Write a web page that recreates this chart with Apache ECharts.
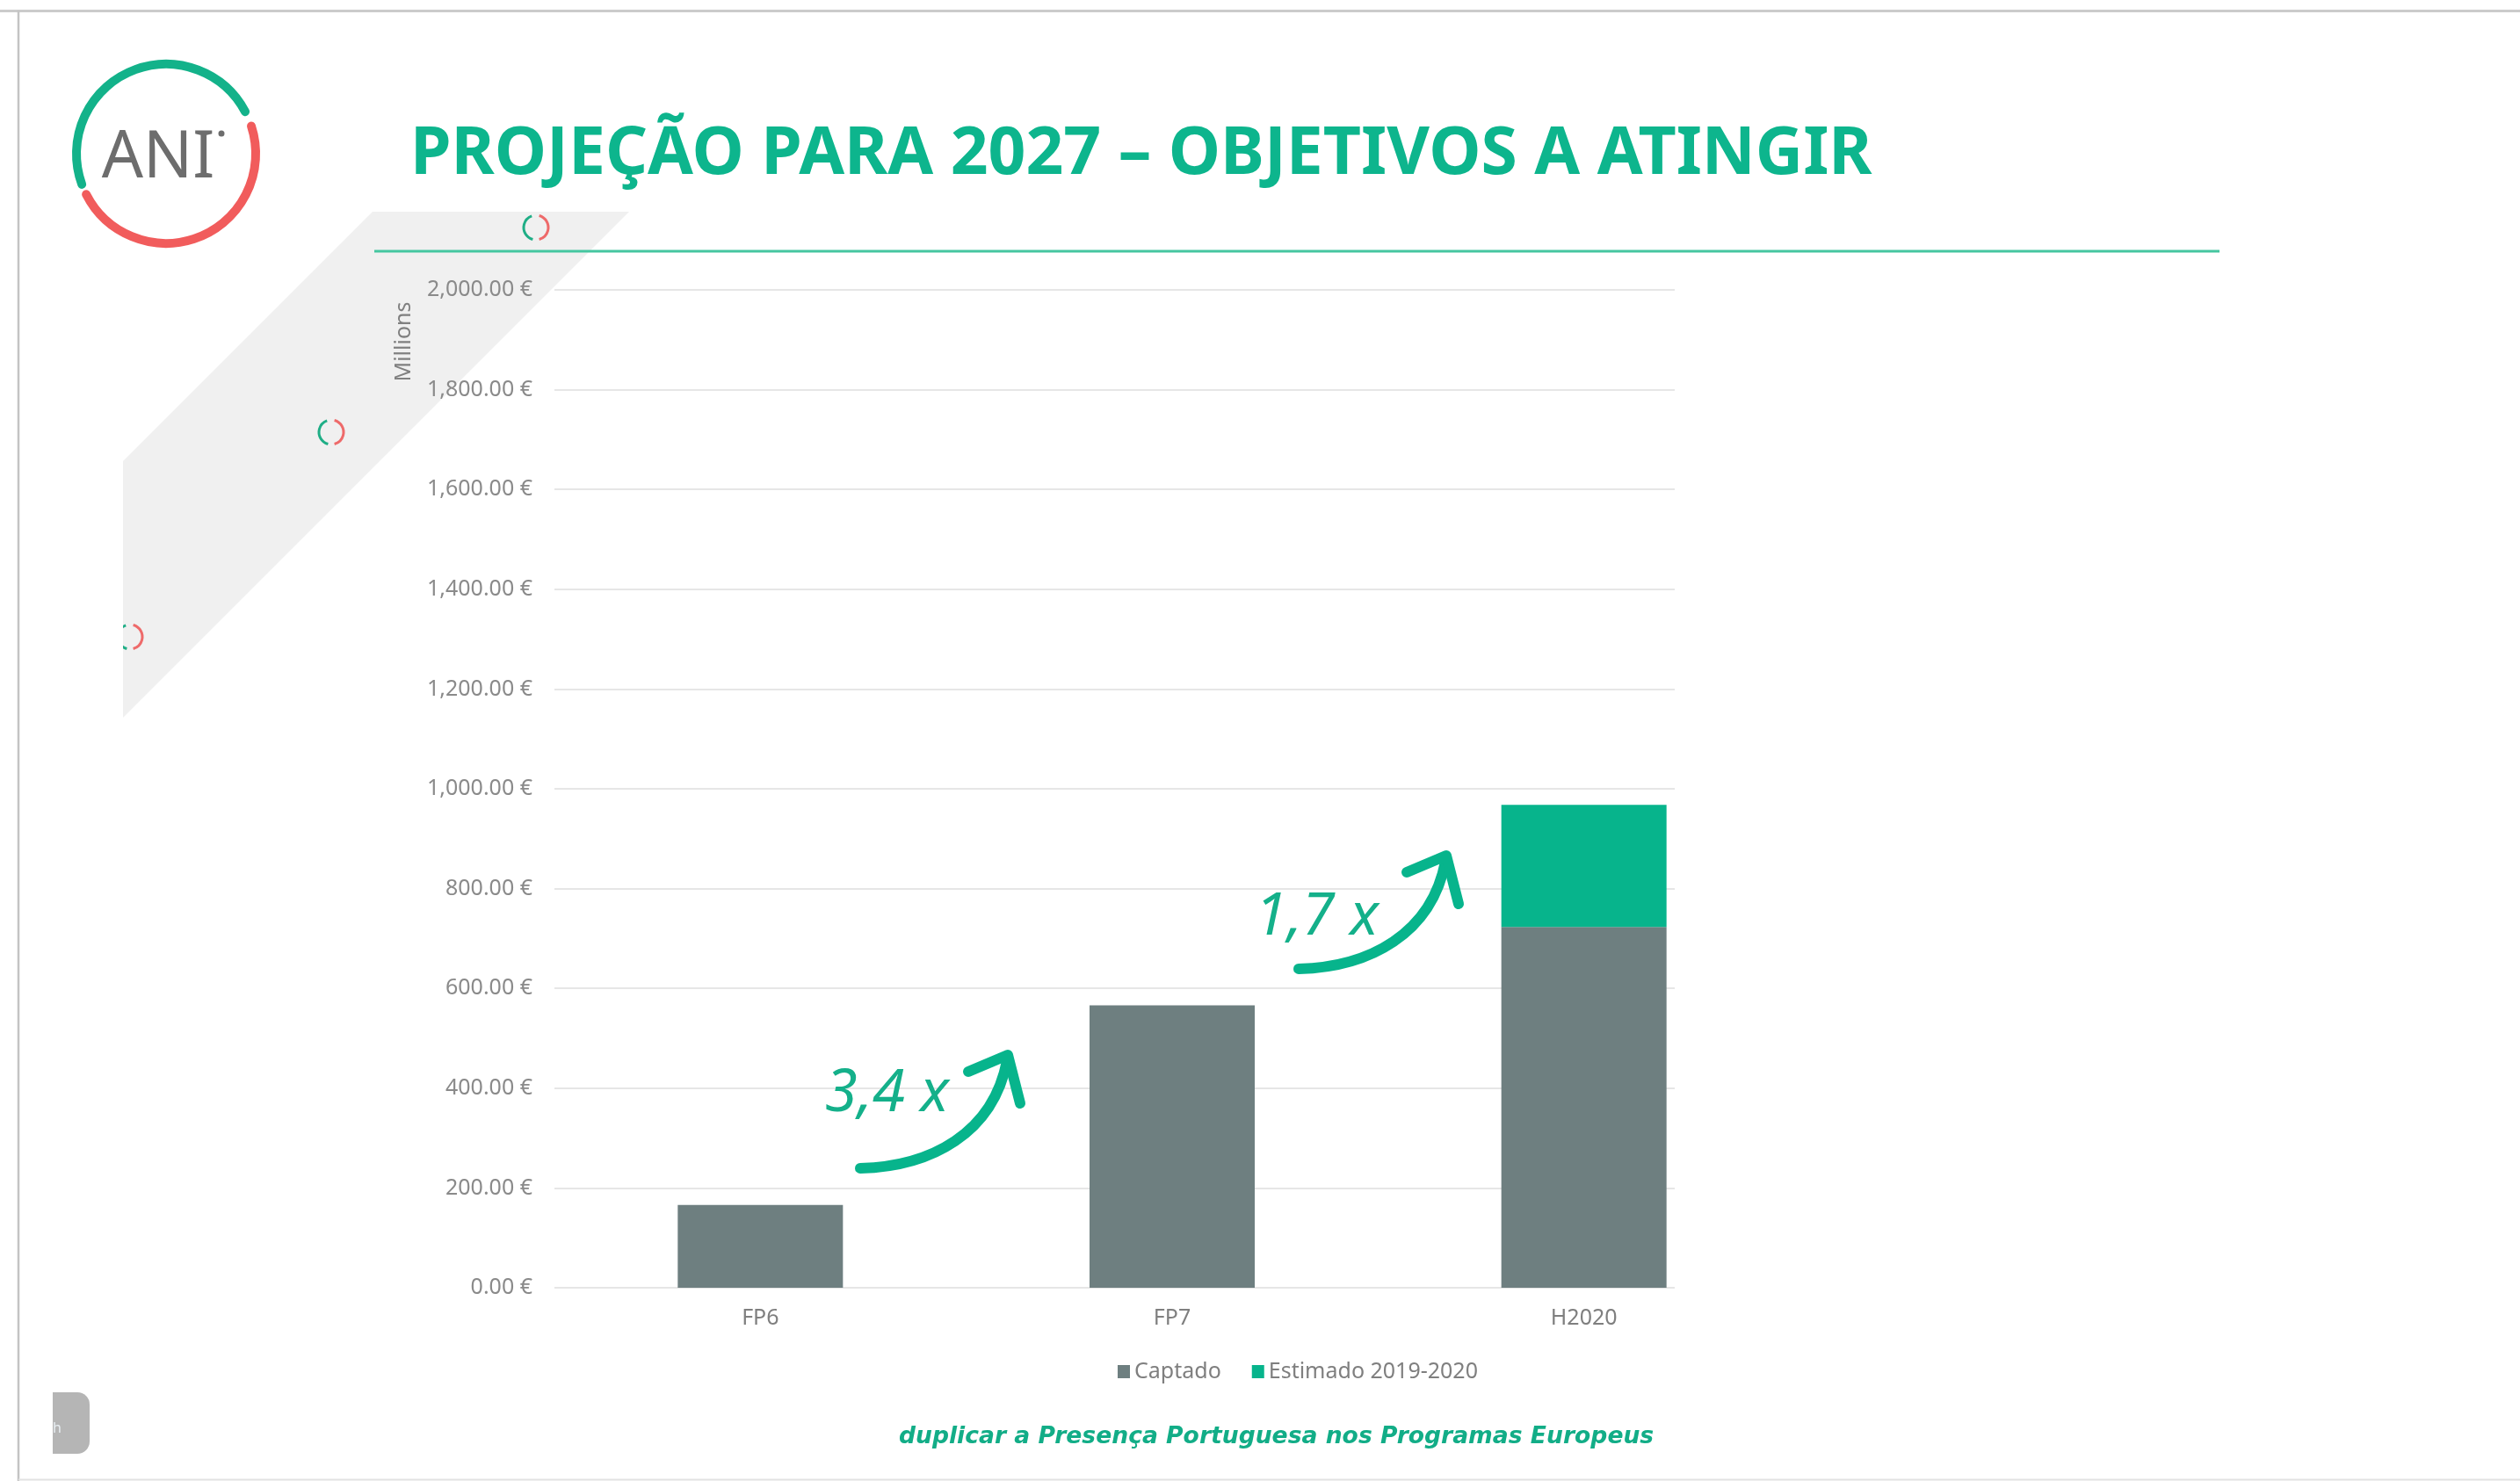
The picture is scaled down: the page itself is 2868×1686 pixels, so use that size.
<!DOCTYPE html>
<html>
<head>
<meta charset="utf-8">
<script src="https://cdn.jsdelivr.net/npm/echarts@6/dist/echarts.min.js"></script>
<style>
html,body{margin:0;padding:0;background:#fff;}
#chart{width:2868px;height:1686px;}
</style>
</head>
<body>
<div id="chart"></div>
<script>
// ---- data ----
const categories = ['FP6', 'FP7', 'H2020'];
const captado = [166, 566, 723];
const estimado = [null, null, 245];
const seriesNames = ['Captado', 'Estimado 2019-2020'];
const yMin = 0, yMax = 2000, yStep = 200;
const titleText = 'PROJEÇÃO PARA 2027 – OBJETIVOS A ATINGIR';
const axisTitle = 'Millions';
const growthLabels = ['3,4 x', '1,7 x'];
const footerText = 'duplicar a Presença Portuguesa nos Programas Europeus';
const logoText = 'ANI';

const FONT = 'Noto Sans';
const GREEN = '#07B48C';
const GRAY = '#6E7F80';
const TXT = '#7f7f7f';
const deg = Math.PI / 180;

function ring(cx, cy, r, lw) {
  return [
    {type: 'arc', z: -4, shape: {cx: cx, cy: cy, r: r, startAngle: 105 * deg, endAngle: 250 * deg, clockwise: true},
     style: {stroke: '#1fae86', lineWidth: lw, fill: null}},
    {type: 'arc', z: -4, shape: {cx: cx, cy: cy, r: r, startAngle: 285 * deg, endAngle: 435 * deg, clockwise: true},
     style: {stroke: '#ee6a6a', lineWidth: lw, fill: null}}
  ];
}

function arrow(dx, dy) {
  return [
    {type: 'bezierCurve', z: 20,
     shape: {x1: 979 + dx, y1: 1330 + dy, cpx1: 1060 + dx, cpy1: 1328 + dy, cpx2: 1130 + dx, cpy2: 1290 + dy, x2: 1146 + dx, y2: 1208 + dy},
     style: {stroke: GREEN, lineWidth: 12, fill: null, lineCap: 'round'}},
    {type: 'polyline', z: 20,
     shape: {points: [[1102 + dx, 1220 + dy], [1147 + dx, 1201 + dy], [1161 + dx, 1256 + dy]]},
     style: {stroke: GREEN, lineWidth: 12, fill: null, lineCap: 'round', lineJoin: 'round'}}
  ];
}

const graphics = [
  // slide frame
  {type: 'line', shape: {x1: 0, y1: 12.5, x2: 2868, y2: 12.5}, style: {stroke: '#cbcbcb', lineWidth: 3}},
  {type: 'line', shape: {x1: 21, y1: 12, x2: 21, y2: 1686}, style: {stroke: '#c4c4c4', lineWidth: 2.5}},
  {type: 'line', shape: {x1: 21, y1: 1684.5, x2: 2868, y2: 1684.5}, style: {stroke: '#e2e2e2', lineWidth: 2}},
  // decorative band
  {type: 'polygon', z: -5, shape: {points: [[424, 241], [716, 241], [140, 817], [140, 525]]}, style: {fill: '#f0f0f0'}},
  ...ring(610, 259, 14, 3),
  ...ring(377, 492, 14, 3),
  ...ring(148, 725, 14, 3),
  {type: 'rect', z: -3, shape: {x: 120, y: 700, width: 20, height: 50}, style: {fill: '#ffffff'}},
  // logo
  {type: 'arc', shape: {cx: 189, cy: 175, r: 102, startAngle: 160 * deg, endAngle: 332 * deg, clockwise: true},
   style: {stroke: '#13b28a', lineWidth: 10, fill: null, lineCap: 'round'}},
  {type: 'arc', shape: {cx: 189, cy: 175, r: 102, startAngle: 342 * deg, endAngle: 513 * deg, clockwise: true},
   style: {stroke: '#f15c5c', lineWidth: 10, fill: null, lineCap: 'round'}},
  {type: 'text', style: {text: logoText, x: 180, y: 181, align: 'center', verticalAlign: 'middle',
   fontFamily: FONT, fontSize: 74, fontWeight: 'normal', fill: '#6d6d6d'}},
  {type: 'circle', shape: {cx: 252, cy: 152, r: 3.5}, style: {fill: '#6d6d6d'}},
  // title + underline
  {type: 'text', style: {text: titleText, x: 467, y: 177, align: 'left', verticalAlign: 'middle',
   fontFamily: FONT, fontSize: 75, fontWeight: 'bold', fill: '#0DB58D'}},
  {type: 'line', shape: {x1: 426, y1: 286, x2: 2526, y2: 286}, style: {stroke: '#45c6a0', lineWidth: 3}},
  // axis title
  {type: 'text', x: 460, y: 389, rotation: Math.PI / 2,
   style: {text: axisTitle, x: 0, y: 0, align: 'center', verticalAlign: 'middle', fontFamily: FONT, fontSize: 25, fill: '#808080'}},
  // growth annotations
  ...arrow(0, 0),
  ...arrow(499, -227),
  {type: 'text', z: 20, style: {text: growthLabels[0], x: 939, y: 1246, align: 'left', verticalAlign: 'middle',
   fontFamily: FONT, fontSize: 67, fontStyle: 'italic', fill: '#14b08a'}},
  {type: 'text', z: 20, style: {text: growthLabels[1], x: 1428, y: 1045, align: 'left', verticalAlign: 'middle',
   fontFamily: FONT, fontSize: 67, fontStyle: 'italic', fill: '#14b08a'}},
  // footer
  {type: 'text', style: {text: footerText, x: 1023, y: 1636, align: 'left', verticalAlign: 'middle',
   fontFamily: 'DejaVu Sans', fontSize: 26.6, fontWeight: 'bold', fontStyle: 'italic', fill: '#12ad87'}},
  // bottom-left tab
  {type: 'rect', shape: {x: 60, y: 1585, width: 42, height: 70, r: [0, 14, 14, 0]}, style: {fill: '#b5b5b5'}},
  {type: 'text', style: {text: 'h', x: 60, y: 1626, align: 'left', verticalAlign: 'middle', fontFamily: FONT, fontSize: 16, fill: '#e8eef2'}}
];

const chart = echarts.init(document.getElementById('chart'), null, {renderer: 'canvas'});
chart.setOption({
  backgroundColor: '#ffffff',
  animation: false,
  textStyle: {fontFamily: FONT},
  grid: [
    {left: 631, right: 962, top: 330, bottom: 220},
    {left: 631, right: 831, top: 330, bottom: 220}
  ],
  xAxis: [
    {type: 'category', gridIndex: 0, data: categories, show: false},
    {type: 'category', gridIndex: 1, data: categories,
     axisLine: {show: false}, axisTick: {show: false},
     axisLabel: {color: TXT, fontSize: 25, fontFamily: FONT, margin: 22}}
  ],
  yAxis: [
    {type: 'value', gridIndex: 0, min: yMin, max: yMax, interval: yStep,
     axisLine: {show: false}, axisTick: {show: false},
     splitLine: {lineStyle: {color: '#e6e6e6', width: 2}},
     axisLabel: {color: '#8a8a8a', fontSize: 25, fontFamily: FONT, margin: 25,
       formatter: v => v.toLocaleString('en-US', {minimumFractionDigits: 2, maximumFractionDigits: 2}) + ' €'}},
    {type: 'value', gridIndex: 1, min: yMin, max: yMax, interval: yStep, show: false}
  ],
  legend: {
    left: 1272, top: 1549, padding: 0, icon: 'rect', itemWidth: 14, itemHeight: 15, itemGap: 35,
    data: seriesNames,
    textStyle: {color: TXT, fontSize: 25, fontFamily: FONT}
  },
  series: [
    {name: seriesNames[0], type: 'bar', xAxisIndex: 1, yAxisIndex: 1, stack: 'total', barWidth: 188,
     data: captado, itemStyle: {color: GRAY}},
    {name: seriesNames[1], type: 'bar', xAxisIndex: 1, yAxisIndex: 1, stack: 'total', barWidth: 188,
     data: estimado, itemStyle: {color: GREEN}}
  ],
  graphic: graphics
});
</script>
</body>
</html>
